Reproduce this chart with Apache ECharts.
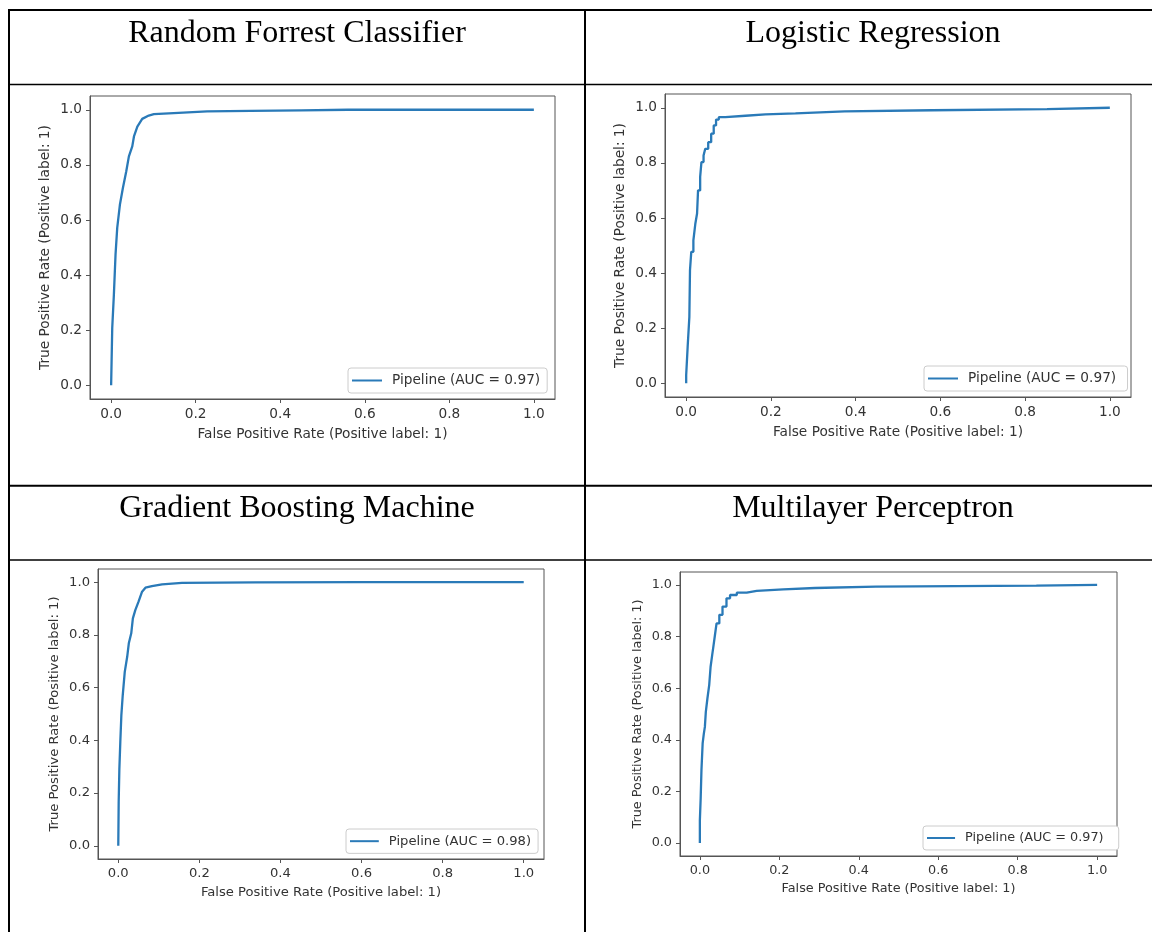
<!DOCTYPE html>
<html>
<head>
<meta charset="utf-8">
<script src="https://cdn.jsdelivr.net/npm/echarts@6/dist/echarts.min.js"></script>
<style>
  html, body { margin: 0; padding: 0; background: #fff; }
  #main { width: 1152px; height: 932px; }
</style>
</head>
<body>
<div id="main"></div>
<script>
// ROC curves of four classifiers

const tickValues = [0, 0.2, 0.4, 0.6, 0.8, 1.0];
const modelTitles = ['Random Forrest Classifier', 'Logistic Regression', 'Gradient Boosting Machine', 'Multilayer Perceptron'];
const legendNames = ['Pipeline (AUC = 0.97)', 'Pipeline (AUC = 0.97) ', 'Pipeline (AUC = 0.98)', 'Pipeline (AUC = 0.97)  '];
const xAxisName = 'False Positive Rate (Positive label: 1)';
const yAxisName = 'True Positive Rate (Positive label: 1)';

// Random Forrest
const rfFpr = [0, 0.0026, 0.0065, 0.0104, 0.0144, 0.0207, 0.0278, 0.0357, 0.042, 0.050, 0.054, 0.062, 0.0735, 0.089, 0.101, 0.148, 0.227, 0.33, 0.45, 0.56, 1.0];
const rfTpr = [0, 0.208, 0.329, 0.474, 0.571, 0.655, 0.716, 0.776, 0.831, 0.867, 0.903, 0.939, 0.967, 0.979, 0.984, 0.988, 0.994, 0.996, 0.998, 1.0, 1.0];

// Logistic Regression (step curve, corner points)
const lrFpr = [0, 0, 0.0035, 0.0035, 0.0075, 0.0075, 0.009, 0.009, 0.012, 0.012, 0.017, 0.017, 0.0217, 0.0217, 0.0257, 0.0257, 0.028, 0.028, 0.033, 0.033, 0.036, 0.036, 0.041, 0.041, 0.045, 0.045, 0.052, 0.052, 0.059, 0.059, 0.065, 0.065, 0.0705, 0.0705, 0.077, 0.077, 0.0925, 0.0925, 0.14, 0.14, 0.187, 0.187, 0.258, 0.258, 0.374, 0.374, 0.581, 0.581, 0.852, 0.852, 1.0];
const lrTpr = [0, 0.03, 0.03, 0.133, 0.133, 0.241, 0.241, 0.41, 0.41, 0.477, 0.477, 0.519, 0.519, 0.58, 0.58, 0.616, 0.616, 0.70, 0.70, 0.749, 0.749, 0.803, 0.803, 0.827, 0.827, 0.851, 0.851, 0.875, 0.875, 0.906, 0.906, 0.936, 0.936, 0.957, 0.957, 0.966, 0.966, 0.971, 0.971, 0.976, 0.976, 0.98, 0.98, 0.987, 0.987, 0.991, 0.991, 0.995, 0.995, 1.0, 1.0];

// Gradient Boosting
const gbFpr = [0, 0.001, 0.0027, 0.005, 0.0076, 0.011, 0.016, 0.022, 0.026, 0.032, 0.036, 0.042, 0.050, 0.0587, 0.067, 0.083, 0.108, 0.157, 0.338, 0.6, 1.0];
const gbTpr = [0, 0.165, 0.292, 0.393, 0.495, 0.571, 0.66, 0.717, 0.768, 0.806, 0.863, 0.894, 0.926, 0.964, 0.979, 0.985, 0.992, 0.997, 0.999, 1.0, 1.0];

// Multilayer Perceptron (step curve, corner points)
const mlpFpr = [0, 0, 0.002, 0.002, 0.004, 0.004, 0.007, 0.007, 0.010, 0.010, 0.0126, 0.0126, 0.015, 0.015, 0.019, 0.019, 0.0235, 0.0235, 0.027, 0.027, 0.031, 0.031, 0.034, 0.034, 0.038, 0.038, 0.042, 0.042, 0.049, 0.049, 0.057, 0.057, 0.067, 0.067, 0.076, 0.076, 0.093, 0.093, 0.118, 0.118, 0.143, 0.143, 0.21, 0.21, 0.29, 0.29, 0.443, 0.443, 0.847, 0.847, 1.0];
const mlpTpr = [0, 0.088, 0.088, 0.172, 0.172, 0.282, 0.282, 0.386, 0.386, 0.424, 0.424, 0.45, 0.45, 0.508, 0.508, 0.56, 0.56, 0.612, 0.612, 0.683, 0.683, 0.728, 0.728, 0.761, 0.761, 0.806, 0.806, 0.851, 0.851, 0.884, 0.884, 0.916, 0.916, 0.948, 0.948, 0.961, 0.961, 0.97, 0.97, 0.977, 0.977, 0.983, 0.983, 0.988, 0.988, 0.993, 0.993, 0.997, 0.997, 1.0, 1.0];

const curves = [[rfFpr, rfTpr], [lrFpr, lrTpr], [gbFpr, gbTpr], [mlpFpr, mlpTpr]];

// 布局：每个单元格里的图框位置（像素），以及各截图的缩放
const grids = [
  { left: 90, top: 96, width: 465, height: 303 },
  { left: 665, top: 94, width: 466, height: 303 },
  { left: 98, top: 569, width: 446, height: 290 },
  { left: 680, top: 572, width: 437, height: 284 }
];
const scales = [1, 1, 0.96, 0.935];
const legendPos = [[348, 368], [924, 366], [346, 829], [923, 826]];
const titlePos = [[297, 34], [873, 34], [297, 509], [873, 509]];

const lineColor = '#2a7ab8';
const frameColor = '#555';
const textColor = '#333';
const font = 'DejaVu Sans';

const chart = echarts.init(document.getElementById('main'), null, { renderer: 'canvas' });

const option = {
  animation: false,
  backgroundColor: '#fff',
  grid: grids.map(g => Object.assign({
    show: true, borderColor: frameColor, borderWidth: 1, backgroundColor: 'transparent',
    outerBoundsMode: 'none', containLabel: false
  }, g)),
  xAxis: grids.map((g, i) => {
    const s = scales[i];
    return {
      type: 'value', gridIndex: i, min: -0.05, max: 1.05,
      axisLine: { show: true, onZero: false, lineStyle: { color: frameColor, width: 1 } },
      axisTick: { show: true, inside: false, length: 4, customValues: tickValues, lineStyle: { color: frameColor } },
      axisLabel: { customValues: tickValues, formatter: v => v.toFixed(1), margin: 8, color: textColor, fontFamily: font, fontSize: 13.7 * s },
      splitLine: { show: false },
      name: xAxisName, nameLocation: 'middle', nameGap: 28 * s,
      nameTextStyle: { color: textColor, fontFamily: font, fontSize: 13.7 * s }
    };
  }),
  yAxis: grids.map((g, i) => {
    const s = scales[i];
    return {
      type: 'value', gridIndex: i, min: -0.05, max: 1.05,
      axisLine: { show: true, onZero: false, lineStyle: { color: frameColor, width: 1 } },
      axisTick: { show: true, inside: false, length: 4, customValues: tickValues, lineStyle: { color: frameColor } },
      axisLabel: { customValues: tickValues, formatter: v => v.toFixed(1), margin: 8, color: textColor, fontFamily: font, fontSize: 13.7 * s },
      splitLine: { show: false },
      name: yAxisName, nameLocation: 'middle', nameRotate: 90, nameGap: 38 * s,
      nameTextStyle: { color: textColor, fontFamily: font, fontSize: 13.7 * s }
    };
  }),
  legend: grids.map((g, i) => {
    const s = scales[i];
    return {
      data: [legendNames[i]], left: legendPos[i][0], top: legendPos[i][1],
      selectedMode: false, icon: 'rect', itemWidth: 30 * s, itemHeight: 2,
      padding: [4.5, 7, 4.5, 4], borderColor: '#ccc', borderWidth: 1, borderRadius: 3,
      backgroundColor: '#fff',
      textStyle: { color: textColor, fontFamily: font, fontSize: 13.7 * s, lineHeight: 16 * s, padding: [0, 0, 0, 5] }
    };
  }),
  series: curves.map((c, i) => ({
    name: legendNames[i], type: 'line', xAxisIndex: i, yAxisIndex: i,
    data: c[0].map((x, k) => [x, c[1][k]]),
    showSymbol: false, symbol: 'none', silent: true,
    lineStyle: { color: lineColor, width: 2.3 }, itemStyle: { color: lineColor }
  })),
  graphic: [
    // 表格线
    { type: 'line', shape: { x1: 9, y1: 10, x2: 1152, y2: 10 }, style: { stroke: '#000', lineWidth: 2 } },
    { type: 'line', shape: { x1: 9, y1: 9, x2: 9, y2: 932 }, style: { stroke: '#000', lineWidth: 2 } },
    { type: 'line', shape: { x1: 585, y1: 9, x2: 585, y2: 932 }, style: { stroke: '#000', lineWidth: 2 } },
    { type: 'line', shape: { x1: 9, y1: 84.5, x2: 1152, y2: 84.5 }, style: { stroke: '#000', lineWidth: 1.3 } },
    { type: 'line', shape: { x1: 9, y1: 485.7, x2: 1152, y2: 485.7 }, style: { stroke: '#000', lineWidth: 2 } },
    { type: 'line', shape: { x1: 9, y1: 560, x2: 1152, y2: 560 }, style: { stroke: '#000', lineWidth: 1.3 } }
  ].concat(modelTitles.map((t, i) => ({
    type: 'text', x: titlePos[i][0], y: titlePos[i][1],
    style: { text: t, fill: '#000', font: '32px "Liberation Serif"', align: 'center', verticalAlign: 'middle' }
  })))
};

chart.setOption(option);
</script>
</body>
</html>
